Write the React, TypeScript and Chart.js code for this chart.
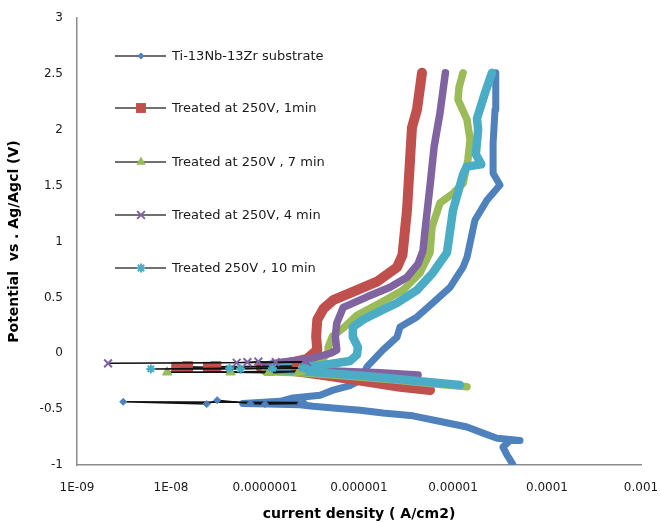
import { useEffect, useRef } from 'react';
import { Chart, registerables } from 'chart.js';

Chart.register(...registerables);

// ---------- data ----------
const seriesNames = [
  'Ti-13Nb-13Zr substrate',
  'Treated at 250V, 1min',
  'Treated at 250V , 7 min',
  'Treated at 250V, 4 min',
  'Treated 250V , 10 min',
];

// Substrate
const subI = [4.35e-5, 4.24e-5, 3.75e-5, 3.4e-5, 4.04e-5, 5.16e-5, 2.94e-5, 2.09e-5, 1.41e-5, 7.8e-6, 3.75e-6, 1.8e-6, 1.03e-6, 5.3e-7, 3.24e-7, 2.35e-7, 1.05e-7, 5.8e-8, 1.45e-7, 1.99e-7, 3.85e-7, 5.3e-7, 8.0e-7, 1.03e-6, 1.22e-6, 1.8e-6, 2.54e-6, 2.73e-6, 4.14e-6, 6.1e-6, 9.3e-6, 1.28e-5, 1.41e-5, 1.71e-5, 2.3e-5, 3.16e-5, 2.67e-5, 2.67e-5, 2.8e-5, 2.85e-5];
const subE = [-1.0, -0.98, -0.91, -0.84, -0.78, -0.78, -0.76, -0.715, -0.66, -0.615, -0.56, -0.535, -0.51, -0.49, -0.475, -0.46, -0.455, -0.45, -0.43, -0.4, -0.375, -0.33, -0.29, -0.24, -0.12, 0.03, 0.145, 0.235, 0.325, 0.45, 0.59, 0.77, 0.86, 1.19, 1.37, 1.505, 1.61, 1.88, 2.18, 2.51];
const subEcorrI = [2.4e-7, 1.0e-7, 7.0e-8, 3.1e-8, 2.4e-8, 3.1e-9, 2.6e-7];
const subEcorrE = [-0.45, -0.455, -0.45, -0.42, -0.455, -0.435, -0.44];

// 1 min
const min1I = [5.7e-6, 2.73e-6, 9.5e-7, 3.85e-7, 1.7e-7, 9.0e-8, 1.2e-7, 2.0e-7, 2.8e-7, 3.6e-7, 3.5e-7, 3.6e-7, 4.2e-7, 5.3e-7, 9.5e-7, 1.55e-6, 2.54e-6, 2.9e-6, 3.24e-6, 3.49e-6, 3.66e-6, 4.14e-6, 4.68e-6];
const min1E = [-0.33, -0.3, -0.24, -0.19, -0.15, -0.13, -0.11, -0.08, -0.05, 0.03, 0.15, 0.3, 0.4, 0.475, 0.565, 0.64, 0.77, 0.88, 1.28, 1.73, 2.02, 2.18, 2.51];
const min1EcorrI = [2.2e-7, 3.0e-8, 2.5e-8, 1.5e-8, 1.15e-8, 2.4e-7];
const min1EcorrE = [-0.115, -0.12, -0.125, -0.12, -0.125, -0.12];

// 7 min
const min7I = [1.41e-5, 5.7e-6, 2.14e-6, 6.3e-7, 2.35e-7, 1.0e-7, 1.4e-7, 2.4e-7, 3.9e-7, 4.7e-7, 4.7e-7, 5.2e-7, 6.8e-7, 9.5e-7, 1.67e-6, 2.94e-6, 4.46e-6, 5.7e-6, 5.98e-6, 7.27e-6, 1.0e-5, 1.28e-5, 1.44e-5, 1.52e-5, 1.41e-5, 1.13e-5, 1.16e-5, 1.28e-5];
const min7E = [-0.3, -0.27, -0.235, -0.2, -0.175, -0.165, -0.15, -0.12, -0.07, 0.0, 0.055, 0.15, 0.225, 0.34, 0.45, 0.565, 0.72, 0.9, 1.13, 1.345, 1.43, 1.52, 1.73, 1.91, 2.09, 2.27, 2.38, 2.51];
const min7EcorrI = [2.3e-7, 1.1e-7, 4.3e-8, 9.1e-9, 2.4e-7];
const min7EcorrE = [-0.165, -0.175, -0.17, -0.17, -0.16];

// 4 min
const min4I = [4.25e-6, 1.67e-6, 6.3e-7, 2.35e-7, 1.0e-7, 1.5e-7, 3.0e-7, 5.0e-7, 5.8e-7, 5.6e-7, 5.8e-7, 6.8e-7, 1.22e-6, 2.14e-6, 3.24e-6, 4.25e-6, 4.8e-6, 5.04e-6, 5.7e-6, 6.3e-6, 7.27e-6, 8.3e-6];
const min4E = [-0.195, -0.175, -0.16, -0.14, -0.11, -0.08, -0.05, 0.0, 0.03, 0.15, 0.27, 0.41, 0.505, 0.59, 0.68, 0.8, 0.92, 1.1, 1.5, 1.85, 2.15, 2.51];
const min4EcorrI = [2.6e-7, 1.3e-7, 8.5e-8, 6.5e-8, 5.0e-8, 2.14e-9, 2.8e-7];
const min4EcorrE = [-0.075, -0.08, -0.075, -0.08, -0.085, -0.09, -0.08];

// 10 min
const min10I = [1.19e-5, 4.46e-6, 1.67e-6, 6.3e-7, 2.35e-7, 1.1e-7, 1.6e-7, 3.85e-7, 8.0e-7, 9.5e-7, 9.75e-7, 8.6e-7, 8.6e-7, 1.1e-6, 1.8e-6, 2.54e-6, 4.14e-6, 6.1e-6, 8.63e-6, 1.0e-5, 1.28e-5, 1.4e-5, 2.0e-5, 1.75e-5, 1.85e-5, 1.8e-5, 2.19e-5, 2.6e-5];
const min10E = [-0.285, -0.25, -0.215, -0.185, -0.16, -0.14, -0.13, -0.11, -0.07, -0.015, 0.055, 0.145, 0.235, 0.3, 0.39, 0.45, 0.565, 0.72, 0.9, 1.28, 1.6, 1.67, 1.69, 1.78, 2.0, 2.1, 2.33, 2.51];
const min10EcorrI = [2.5e-7, 1.2e-7, 5.5e-8, 4.2e-8, 6.1e-9, 2.7e-7];
const min10EcorrE = [-0.13, -0.135, -0.14, -0.135, -0.14, -0.135];

const xTickValues = [1e-9, 1e-8, 1e-7, 1e-6, 1e-5, 1e-4, 1e-3];
const xTickLabels = ['1E-09', '1E-08', '0.0000001', '0.000001', '0.00001', '0.0001', '0.001'];
const yTickValues = [-1, -0.5, 0, 0.5, 1, 1.5, 2, 2.5, 3];
const yTickLabels = ['-1', '-0.5', '0', '0.5', '1', '1.5', '2', '2.5', '3'];

// ---------- styles ----------
const styles = [
  { color: '#4F81BD', band: 7, marker: 'rectRot', r: 3.5, pbw: 1 },
  { color: '#C0504D', band: 10, marker: 'rect', r: 7, pbw: 1 },
  { color: '#9BBB59', band: 7.5, marker: 'triangle', r: 5.5, pbw: 1 },
  { color: '#8064A2', band: 7.5, marker: 'crossRot', r: 5.5, pbw: 2 },
  { color: '#4BACC6', band: 8.5, marker: 'star', r: 4.5, pbw: 2 },
];

const bands = [
  [subI, subE],
  [min1I, min1E],
  [min7I, min7E],
  [min4I, min4E],
  [min10I, min10E],
];
const ecorrs = [
  [subEcorrI, subEcorrE],
  [min1EcorrI, min1EcorrE],
  [min7EcorrI, min7EcorrE],
  [min4EcorrI, min4EcorrE],
  [min10EcorrI, min10EcorrE],
];

function pts(I: number[], E: number[]) {
  return I.map((x, i) => ({ x, y: E[i] }));
}

function drawMarker(ctx: CanvasRenderingContext2D, kind: string, x: number, y: number, r: number, color: string, lw: number) {
  ctx.save();
  ctx.fillStyle = color;
  ctx.strokeStyle = color;
  ctx.lineWidth = lw;
  ctx.beginPath();
  if (kind === 'rectRot') {
    ctx.moveTo(x, y - r); ctx.lineTo(x + r, y); ctx.lineTo(x, y + r); ctx.lineTo(x - r, y); ctx.closePath();
    ctx.fill();
  } else if (kind === 'rect') {
    const s = r * Math.SQRT1_2;
    ctx.rect(x - s, y - s, 2 * s, 2 * s);
    ctx.fill();
  } else if (kind === 'triangle') {
    const h = r * 1.5;
    const w = r * Math.sqrt(3) / 2;
    ctx.moveTo(x, y - r); ctx.lineTo(x + w, y + h - r); ctx.lineTo(x - w, y + h - r); ctx.closePath();
    ctx.fill();
  } else if (kind === 'crossRot') {
    const o = r * Math.SQRT1_2;
    ctx.moveTo(x - o, y - o); ctx.lineTo(x + o, y + o);
    ctx.moveTo(x + o, y - o); ctx.lineTo(x - o, y + o);
    ctx.stroke();
  } else if (kind === 'star') {
    const o = r * Math.SQRT1_2;
    ctx.moveTo(x - o, y - o); ctx.lineTo(x + o, y + o);
    ctx.moveTo(x + o, y - o); ctx.lineTo(x - o, y + o);
    ctx.moveTo(x, y - r); ctx.lineTo(x, y + r);
    ctx.moveTo(x - r, y); ctx.lineTo(x + r, y);
    ctx.stroke();
  }
  ctx.restore();
}

const legendPlugin = {
  id: 'insideLegend',
  afterDraw(chart: any) {
    const ctx: CanvasRenderingContext2D = chart.ctx;
    const ys = [56, 108, 162, 215, 268];
    ctx.save();
    ctx.font = '13px "DejaVu Sans"';
    ctx.textBaseline = 'middle';
    ctx.textAlign = 'left';
    seriesNames.forEach((name, i) => {
      const y = ys[i];
      const st = styles[i];
      ctx.strokeStyle = '#404040';
      ctx.lineWidth = 1.5;
      ctx.beginPath();
      ctx.moveTo(115, y);
      ctx.lineTo(166, y);
      ctx.stroke();
      drawMarker(ctx, st.marker, 141, y, st.r, st.color, st.pbw);
      ctx.fillStyle = '#1a1a1a';
      ctx.fillText(name, 172, y + 1);
    });
    ctx.restore();
  },
};

export default function App() {
  const ref = useRef<HTMLCanvasElement | null>(null);

  useEffect(() => {
    document.body.style.margin = '0';
    const canvas = ref.current;
    if (!canvas) return;
    Chart.defaults.font.family = '"DejaVu Sans"';

    const datasets: any[] = [];
    bands.forEach(([I, E], i) => {
      const st = styles[i];
      datasets.push({
        label: seriesNames[i],
        data: pts(I, E),
        showLine: true,
        borderColor: st.color,
        backgroundColor: st.color,
        borderWidth: st.band,
        borderJoinStyle: 'round',
        borderCapStyle: 'round',
        pointRadius: 0,
        tension: 0,
        order: 10 - i,
      });
    });
    ecorrs.forEach(([I, E], i) => {
      const st = styles[i];
      datasets.push({
        label: seriesNames[i] + ' (Ecorr)',
        data: pts(I, E),
        showLine: true,
        borderColor: '#111111',
        borderWidth: 1.5,
        pointStyle: st.marker,
        pointRadius: st.r,
        pointBackgroundColor: st.color,
        pointBorderColor: st.color,
        pointBorderWidth: st.pbw,
        tension: 0,
        order: 5 - i,
      });
    });

    const chart = new Chart(canvas, {
      type: 'scatter',
      data: { datasets },
      options: {
        responsive: false,
        animation: false,
        devicePixelRatio: 1,
        layout: { padding: { left: 0, right: 20, top: 18, bottom: 0 } },
        plugins: {
          legend: { display: false },
          tooltip: { enabled: false },
        },
        scales: {
          x: {
            type: 'logarithmic',
            min: 1e-9,
            max: 1e-3,
            grid: { display: false, drawTicks: false },
            border: { display: true, color: '#8c8c8c', width: 1.5 },
            afterBuildTicks: (scale: any) => {
              scale.ticks = xTickValues.map((v) => ({ value: v }));
            },
            afterFit: (scale: any) => {
              scale.height = 58;
              scale.paddingLeft = 0;
              scale.paddingRight = 0;
            },
            ticks: {
              padding: 16,
              autoSkip: false,
              maxRotation: 0,
              color: '#1a1a1a',
              font: { size: 12, family: '"DejaVu Sans"' },
              callback: (_v: any, idx: number) => xTickLabels[idx],
            },
            title: {
              display: true,
              text: 'current density ( A/cm2)',
              color: '#000000',
              font: { size: 14, weight: 'bold', family: '"DejaVu Sans"' },
              padding: { top: 4, bottom: 0 },
            },
          },
          y: {
            type: 'linear',
            min: -1,
            max: 3,
            grid: { display: false, drawTicks: false },
            border: { display: true, color: '#8c8c8c', width: 1.5 },
            afterBuildTicks: (scale: any) => {
              scale.ticks = yTickValues.map((v) => ({ value: v }));
            },
            afterFit: (scale: any) => {
              scale.width = 77;
              scale.paddingTop = 0;
              scale.paddingBottom = 0;
            },
            ticks: {
              padding: 14,
              color: '#1a1a1a',
              font: { size: 12, family: '"DejaVu Sans"' },
              callback: (_v: any, idx: number) => yTickLabels[idx],
            },
            title: {
              display: true,
              text: 'Potential  vs . Ag/Agcl (V)',
              color: '#000000',
              font: { size: 14, weight: 'bold', family: '"DejaVu Sans"' },
              padding: { top: 6, bottom: 0 },
            },
          },
        },
      } as any,
      plugins: [legendPlugin],
    });

    return () => {
      chart.destroy();
    };
  }, []);

  return (
    <div style={{ width: 661, height: 523 }}>
      <canvas ref={ref} width={661} height={523} style={{ display: 'block', width: 661, height: 523 }} />
    </div>
  );
}
